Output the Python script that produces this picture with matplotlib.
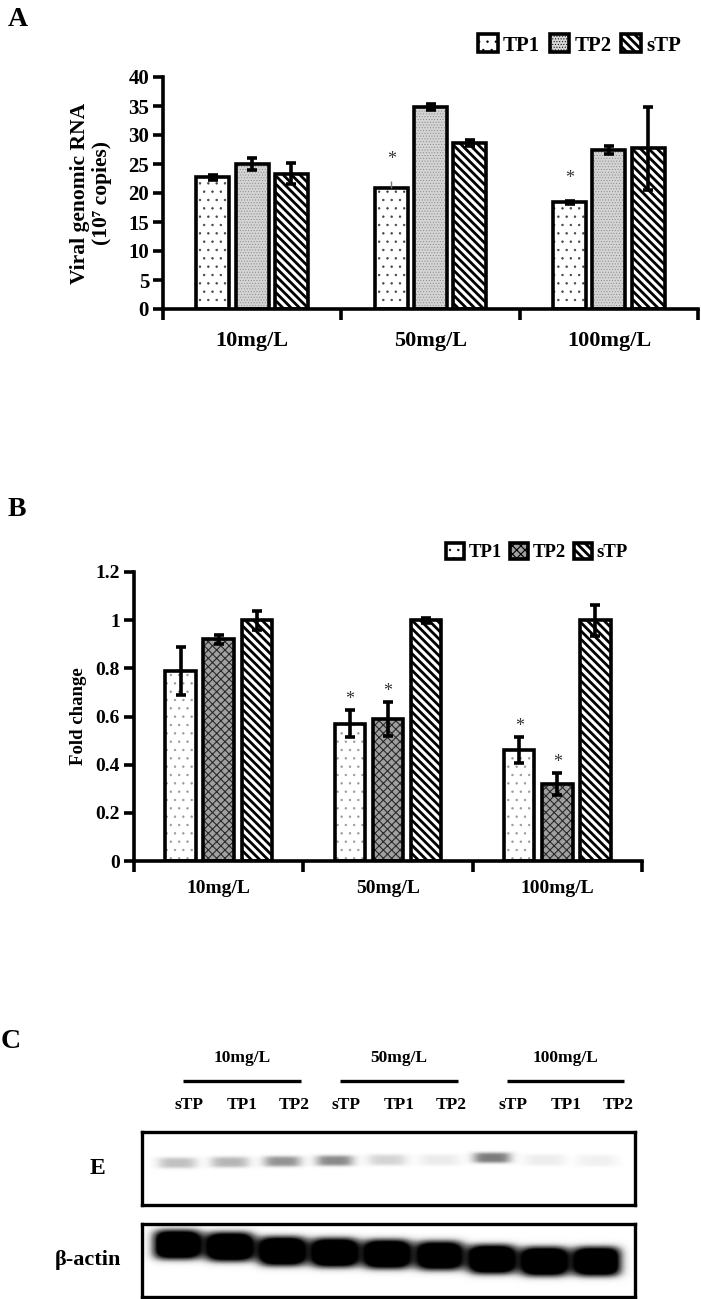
import numpy as np
import matplotlib
matplotlib.use('Agg')
import matplotlib.pyplot as plt
from matplotlib.patches import Patch

plt.rcParams['font.family'] = ['Liberation Serif', 'DejaVu Serif']
plt.rcParams['font.weight'] = 'bold'

doses = ['10mg/L', '50mg/L', '100mg/L']
series = ['TP1', 'TP2', 'sTP']

# A - viral genomic RNA (10^7 copies)
rna_vals = {'TP1': [22.7, 20.8, 18.4],
            'TP2': [25.0, 34.8, 27.4],
            'sTP': [23.3, 28.6, 27.7]}
rna_err_lo = {'TP1': [0.4, 0.0, 0.3],
              'TP2': [1.0, 0.5, 0.7],
              'sTP': [1.8, 0.5, 7.2]}
rna_err_hi = {'TP1': [0.4, 1.2, 0.3],
              'TP2': [1.0, 0.5, 0.7],
              'sTP': [1.8, 0.5, 7.1]}
rna_star = {'TP1': [False, True, True],
            'TP2': [False, False, False],
            'sTP': [False, False, False]}

# B - fold change
fold_vals = {'TP1': [0.79, 0.57, 0.46],
             'TP2': [0.92, 0.59, 0.32],
             'sTP': [1.0, 1.0, 1.0]}
fold_err = {'TP1': [0.10, 0.055, 0.055],
            'TP2': [0.02, 0.07, 0.045],
            'sTP': [0.04, 0.01, 0.065]}
fold_star = {'TP1': [False, True, True],
             'TP2': [False, True, True],
             'sTP': [False, False, False]}

# C - western blot
blot_groups = ['10mg/L', '50mg/L', '100mg/L']
blot_lanes = ['sTP', 'TP1', 'TP2'] * 3
e_band = [0.42, 0.47, 0.60, 0.64, 0.32, 0.18, 0.70, 0.17, 0.14]
e_band_y = [0.57, 0.58, 0.59, 0.60, 0.61, 0.61, 0.64, 0.61, 0.60]
actin_band = [1.0, 1.0, 1.0, 1.0, 1.0, 0.95, 1.0, 1.0, 1.0]
actin_band_y = [0.71, 0.68, 0.62, 0.60, 0.58, 0.56, 0.51, 0.48, 0.48]

fig = plt.figure(figsize=(7.01, 12.99), dpi=100)
W, H = 701.0, 1299.0


def ax_px(x0, y_top, x1, y_bot):
    return fig.add_axes([x0 / W, 1 - y_bot / H, (x1 - x0) / W, (y_bot - y_top) / H])


styles = {
    'A': {'TP1': dict(fc='white', hatch='..', hc='#444444', hlw=0.5),
          'TP2': dict(fc='#d4d4d4', hatch='......', hc='#8a8a8a', hlw=0.4),
          'sTP': dict(fc='white', hatch='\\\\\\\\', hc='black', hlw=2.0)},
    'B': {'TP1': dict(fc='white', hatch='..', hc='#9a9a9a', hlw=0.5),
          'TP2': dict(fc='#a0a0a0', hatch='xxxx', hc='#2a2a2a', hlw=0.8),
          'sTP': dict(fc='white', hatch='\\\\\\\\', hc='black', hlw=2.0)},
}


def set_hlw(p, lw):
    if hasattr(p, 'set_hatch_linewidth'):
        p.set_hatch_linewidth(lw)
    else:
        p._hatch_linewidth = lw


def hatched_bar(ax, xs, vals, width, sty):
    with plt.rc_context({'hatch.linewidth': sty['hlw']}):
        bars = ax.bar(xs, vals, width, color=sty['fc'], hatch=sty['hatch'],
                      edgecolor=sty['hc'], linewidth=0, zorder=2)
        for b in bars:
            set_hlw(b, sty['hlw'])
    return bars


def bar_panel(ax, vals, err_lo, err_hi, stars, st, width, step, star_off, ymax, yticks):
    x = np.arange(len(doses))
    for k, s in enumerate(series):
        xs = x + (k - 1) * step
        hatched_bar(ax, xs, vals[s], width, st[s])
        ax.bar(xs, vals[s], width, color='none', edgecolor='black',
               linewidth=2.6, zorder=3)
        for i in range(len(doses)):
            if err_lo[s][i] == 0:
                # one-sided thin bar
                ax.errorbar(xs[i], vals[s][i], yerr=[[0], [err_hi[s][i]]], fmt='none',
                            ecolor='#777777', elinewidth=1.0, capsize=0, zorder=4)
            else:
                ax.errorbar(xs[i], vals[s][i], yerr=[[err_lo[s][i]], [err_hi[s][i]]],
                            fmt='none', ecolor='black', elinewidth=2.6, capsize=3.5,
                            capthick=2.6, zorder=4)
            if stars[s][i]:
                ax.text(xs[i], vals[s][i] + err_hi[s][i] + star_off, '*', ha='center',
                        va='center', fontsize=13, fontweight='normal', color='#333333')
    ax.set_xlim(-0.5, len(doses) - 0.5)
    ax.set_ylim(0, ymax)
    ax.set_yticks(yticks)
    ax.yaxis.set_major_formatter(plt.FormatStrFormatter('%g'))
    ax.set_xticks(np.arange(len(doses) + 1) - 0.5)
    ax.set_xticklabels([])
    ax.set_xticks(x, minor=True)
    ax.set_xticklabels(doses, minor=True)
    ax.tick_params(axis='x', which='major', direction='out', length=8, width=2.6)
    ax.tick_params(axis='y', direction='out', length=7, width=2.6)
    ax.spines['top'].set_visible(False)
    ax.spines['right'].set_visible(False)
    for sp in ['left', 'bottom']:
        ax.spines[sp].set_linewidth(2.6)


def add_legend(st, anchor, fs):
    hs = [Patch(facecolor=st[s]['fc'], hatch=st[s]['hatch'], edgecolor='black',
                linewidth=2.6, label=s) for s in series]
    leg = fig.legend(handles=hs, loc='center left', bbox_to_anchor=anchor, ncol=3,
                     frameon=False, fontsize=fs, handlelength=0.95, handleheight=0.95,
                     handletextpad=0.25, columnspacing=0.45, borderaxespad=0, borderpad=0)
    for p, s in zip(leg.get_patches(), series):
        set_hlw(p, st[s]['hlw'])
    return leg


#a
axA = ax_px(163, 77, 698, 309)
bar_panel(axA, rna_vals, rna_err_lo, rna_err_hi, rna_star, styles['A'],
          0.185, 0.22, 3.8, 40, np.arange(0, 41, 5))
axA.tick_params(axis='y', labelsize=15, pad=3)
axA.tick_params(axis='x', which='minor', length=0, labelsize=16, pad=16)
axA.set_ylabel('Viral genomic RNA\n(10⁷ copies)', fontsize=15.5,
               fontweight='bold', labelpad=12, linespacing=1.1)
add_legend(styles['A'], (478 / W, 1 - 45 / H), 15)
fig.text(8 / W, 1 - 19 / H, 'A', fontsize=20, fontweight='bold', va='center')

#b
axB = ax_px(134, 572, 642, 861)
bar_panel(axB, fold_vals, fold_err, fold_err, fold_star, styles['B'],
          0.18, 0.225, 0.045, 1.2, np.arange(0, 1.21, 0.2))
axB.set_yticks(np.round(np.arange(0, 1.21, 0.2), 1))
axB.tick_params(axis='y', labelsize=14, pad=3)
axB.tick_params(axis='x', which='minor', length=0, labelsize=14, pad=14)
axB.set_ylabel('Fold change', fontsize=13.5, fontweight='bold', labelpad=6)
add_legend(styles['B'], (446 / W, 1 - 552 / H), 13.5)
fig.text(8 / W, 1 - 509 / H, 'B', fontsize=20, fontweight='bold', va='center')

#c
xlim_c = (-0.67, 8.72)
xs_img = np.linspace(xlim_c[0], xlim_c[1], 600)
ys_img = np.linspace(0, 1, 120)
X, Y = np.meshgrid(xs_img, ys_img)


def blot_axes(ax, amps, ys, hw, hh, gain):
    img = np.zeros_like(X)
    for i, (a, yc) in enumerate(zip(amps, ys)):
        img += a * gain * np.exp(-((X - i) / hw) ** 4) * np.exp(-((Y - yc) / hh) ** 4)
    img = np.clip(img, 0, 1)
    ax.imshow(img, extent=(xlim_c[0], xlim_c[1], 0, 1), origin='lower', aspect='auto',
              cmap='Greys', vmin=0, vmax=1, interpolation='bilinear')
    ax.set_xlim(*xlim_c)
    ax.set_ylim(0, 1)
    ax.set_xticks([])
    ax.set_yticks([])
    for sp in ax.spines.values():
        sp.set_linewidth(2.4)


axE = ax_px(142, 1132, 635, 1205)
blot_axes(axE, e_band, e_band_y, 0.40, 0.08, 0.85)
axActin = ax_px(142, 1224, 635, 1297)
blot_axes(axActin, actin_band, actin_band_y, 0.48, 0.21, 1.5)

axE.text(-0.09, 0.5, 'E', transform=axE.transAxes, ha='center', va='center', fontsize=17)
axActin.text(-0.11, 0.5, 'β-actin', transform=axActin.transAxes, ha='center', va='center',
             fontsize=16)

axLab = ax_px(142, 1030, 635, 1125)
axLab.set_xlim(*xlim_c)
axLab.set_ylim(1125, 1030)
axLab.axis('off')
gshift = [0.23, 0.22, 0.40]
for g, name in enumerate(blot_groups):
    c = 3 * g + 1 + gshift[g]
    axLab.plot([c - 1.12, c + 1.12], [1081, 1081], color='black', lw=2.4,
               solid_capstyle='butt')
    axLab.text(c, 1058, name, ha='center', va='center', fontsize=12.5)
for i, name in enumerate(blot_lanes):
    axLab.text(i + gshift[i // 3], 1105, name, ha='center', va='center', fontsize=12.5)
fig.text(1 / W, 1 - 1041 / H, 'C', fontsize=20, fontweight='bold', va='center')

fig.savefig('out.png', dpi=100)
